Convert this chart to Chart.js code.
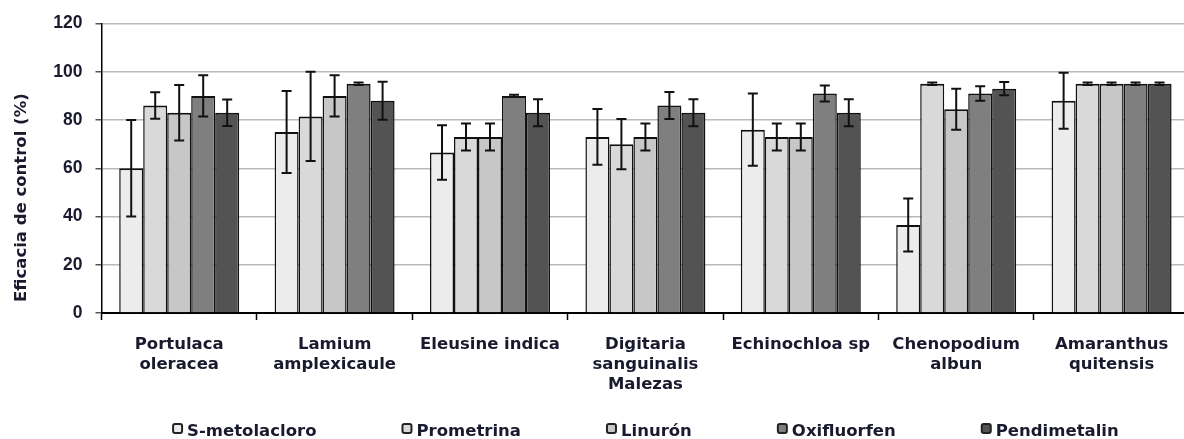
<!DOCTYPE html>
<html>
<head>
<meta charset="utf-8">
<script src="https://cdn.jsdelivr.net/npm/chart.js@4.4.0/dist/chart.umd.min.js"></script>
<style>
  html, body { margin: 0; padding: 0; background: #fff; overflow: hidden; }
  #wrap { position: relative; width: 1192px; height: 439px; }
</style>
</head>
<body>
<div id="wrap"><canvas id="eficaciaChart"></canvas></div>
<script>
// Malezas (categorías del eje X)
const malezas = [
  ['Portulaca', 'oleracea'],
  ['Lamium', 'amplexicaule'],
  ['Eleusine indica'],
  ['Digitaria', 'sanguinalis', 'Malezas'],
  ['Echinochloa sp'],
  ['Chenopodium', 'albun'],
  ['Amaranthus', 'quitensis']
];

// Herbicidas (series)
const herbicidas = ['S-metolacloro', 'Prometrina', 'Linurón', 'Oxifluorfen', 'Pendimetalin'];
const colores = ['#ececec', '#d9d9d9', '#c7c7c7', '#7f7f7f', '#535353'];

// Eficacia media (%) por herbicida
const sMetolacloro = [60, 75, 66.5, 73, 76, 36.5, 88];
const prometrina   = [86, 81.5, 73, 70, 73, 95, 95];
const linuron      = [83, 90, 73, 73, 73, 84.5, 95];
const oxifluorfen  = [90, 95, 90, 86, 91, 91, 95];
const pendimetalin = [83, 88, 83, 83, 83, 93, 95];

// Desvío (barras de error)
const errSMetolacloro = [20, 17, 11.3, 11.6, 15, 11, 11.6];
const errPrometrina   = [5.5, 18.5, 5.6, 10.4, 5.6, 0.5, 0.5];
const errLinuron      = [11.5, 8.5, 5.6, 5.6, 5.6, 8.5, 0.5];
const errOxifluorfen  = [8.5, 0.5, 0.5, 5.6, 3.3, 3, 0.5];
const errPendimetalin = [5.5, 7.9, 5.6, 5.6, 5.6, 2.7, 0.5];

// Eje Y
const yTicks = [0, 20, 40, 60, 80, 100, 120];
const yTitulo = 'Eficacia de control (%)';

const valores = [sMetolacloro, prometrina, linuron, oxifluorfen, pendimetalin];
const errores = [errSMetolacloro, errPrometrina, errLinuron, errOxifluorfen, errPendimetalin];

const colorTexto = '#1a1a2e';

// barras de error (se dibujan con la escala y del gráfico)
const errorBars = {
  id: 'errorBars',
  afterDatasetsDraw(chart) {
    const ctx = chart.ctx;
    const y = chart.scales.y;
    ctx.save();
    ctx.strokeStyle = '#111';
    ctx.lineWidth = 2;
    chart.data.datasets.forEach((ds, i) => {
      const meta = chart.getDatasetMeta(i);
      meta.data.forEach((bar, j) => {
        const v = ds.data[j];
        const e = ds.errores[j];
        const yTop = y.getPixelForValue(v + e);
        const yBot = y.getPixelForValue(v - e);
        const cap = 5;
        ctx.beginPath();
        ctx.moveTo(bar.x, yTop);
        ctx.lineTo(bar.x, yBot);
        ctx.moveTo(bar.x - cap, yTop);
        ctx.lineTo(bar.x + cap, yTop);
        ctx.moveTo(bar.x - cap, yBot);
        ctx.lineTo(bar.x + cap, yBot);
        ctx.stroke();
      });
    });
    ctx.restore();
  }
};

// título del eje Y, arrancando cerca del pie del eje
const tituloY = {
  id: 'tituloY',
  afterDraw(chart) {
    const ctx = chart.ctx;
    ctx.save();
    ctx.translate(22, chart.chartArea.bottom - 11);
    ctx.rotate(-Math.PI / 2);
    ctx.font = 'bold 16.5px "DejaVu Sans"';
    ctx.fillStyle = colorTexto;
    ctx.textAlign = 'left';
    ctx.textBaseline = 'middle';
    ctx.fillText(yTitulo, 0, 0);
    ctx.restore();
  }
};

// leyenda en una fila, centrada bajo el área del gráfico
const leyenda = {
  id: 'leyendaFila',
  afterDraw(chart) {
    const ctx = chart.ctx;
    const area = chart.chartArea;
    const box = 11, sep = 4, gap = 85;
    ctx.save();
    ctx.font = 'bold 16.5px "DejaVu Sans"';
    const items = chart.data.datasets.map(ds => ({
      label: ds.label,
      color: ds.backgroundColor,
      w: box + sep + ctx.measureText(ds.label).width
    }));
    const total = items.reduce((s, it) => s + it.w, 0) + gap * (items.length - 1);
    let x = (area.left + area.right) / 2 - total / 2;
    const yBase = chart.height - 3;
    items.forEach(it => {
      ctx.fillStyle = it.color;
      ctx.strokeStyle = '#222';
      ctx.lineWidth = 2;
      ctx.beginPath();
      ctx.roundRect(x + 1, yBase - 12, box - 2, 9, 2);
      ctx.fill();
      ctx.stroke();
      ctx.fillStyle = colorTexto;
      ctx.textBaseline = 'alphabetic';
      ctx.fillText(it.label, x + box + sep, yBase);
      x += it.w + gap;
    });
    ctx.restore();
  }
};

new Chart(document.getElementById('eficaciaChart'), {
  type: 'bar',
  data: {
    labels: malezas,
    datasets: herbicidas.map((h, i) => ({
      label: h,
      data: valores[i],
      errores: errores[i],
      backgroundColor: colores[i],
      borderColor: '#111',
      borderWidth: { top: 2, left: 1.5, right: 1.5, bottom: 0 },
      borderSkipped: false,
      barPercentage: 1,
      categoryPercentage: 0.772
    }))
  },
  options: {
    responsive: true,
    maintainAspectRatio: false,
    animation: false,
    layout: { padding: { top: 21, right: 2.7, bottom: 0, left: 0 } },
    plugins: {
      legend: { display: false },
      tooltip: { enabled: false }
    },
    scales: {
      x: {
        offset: true,
        grid: { drawOnChartArea: false, offset: true, tickLength: 7, tickColor: '#000', tickWidth: 1.5 },
        border: { display: true, color: '#000', width: 2 },
        ticks: {
          color: colorTexto,
          padding: 15,
          maxRotation: 0,
          autoSkip: false,
          font: { family: 'DejaVu Sans', weight: 'bold', size: 16.5, lineHeight: 1.21 }
        },
        afterFit(scale) { scale.height = 126; }
      },
      y: {
        min: 0,
        max: 120,
        afterBuildTicks(scale) { scale.ticks = yTicks.map(v => ({ value: v })); },
        grid: { color: '#b9b9b9', lineWidth: 1.5, tickLength: 6, tickColor: '#555' },
        border: { display: true, color: '#000', width: 1.5 },
        ticks: {
          color: colorTexto,
          padding: 13,
          font: { family: 'Liberation Sans', weight: 'bold', size: 17.5 }
        },
        afterFit(scale) { scale.width = 101.5; }
      }
    }
  },
  plugins: [errorBars, tituloY, leyenda]
});
</script>
</body>
</html>
